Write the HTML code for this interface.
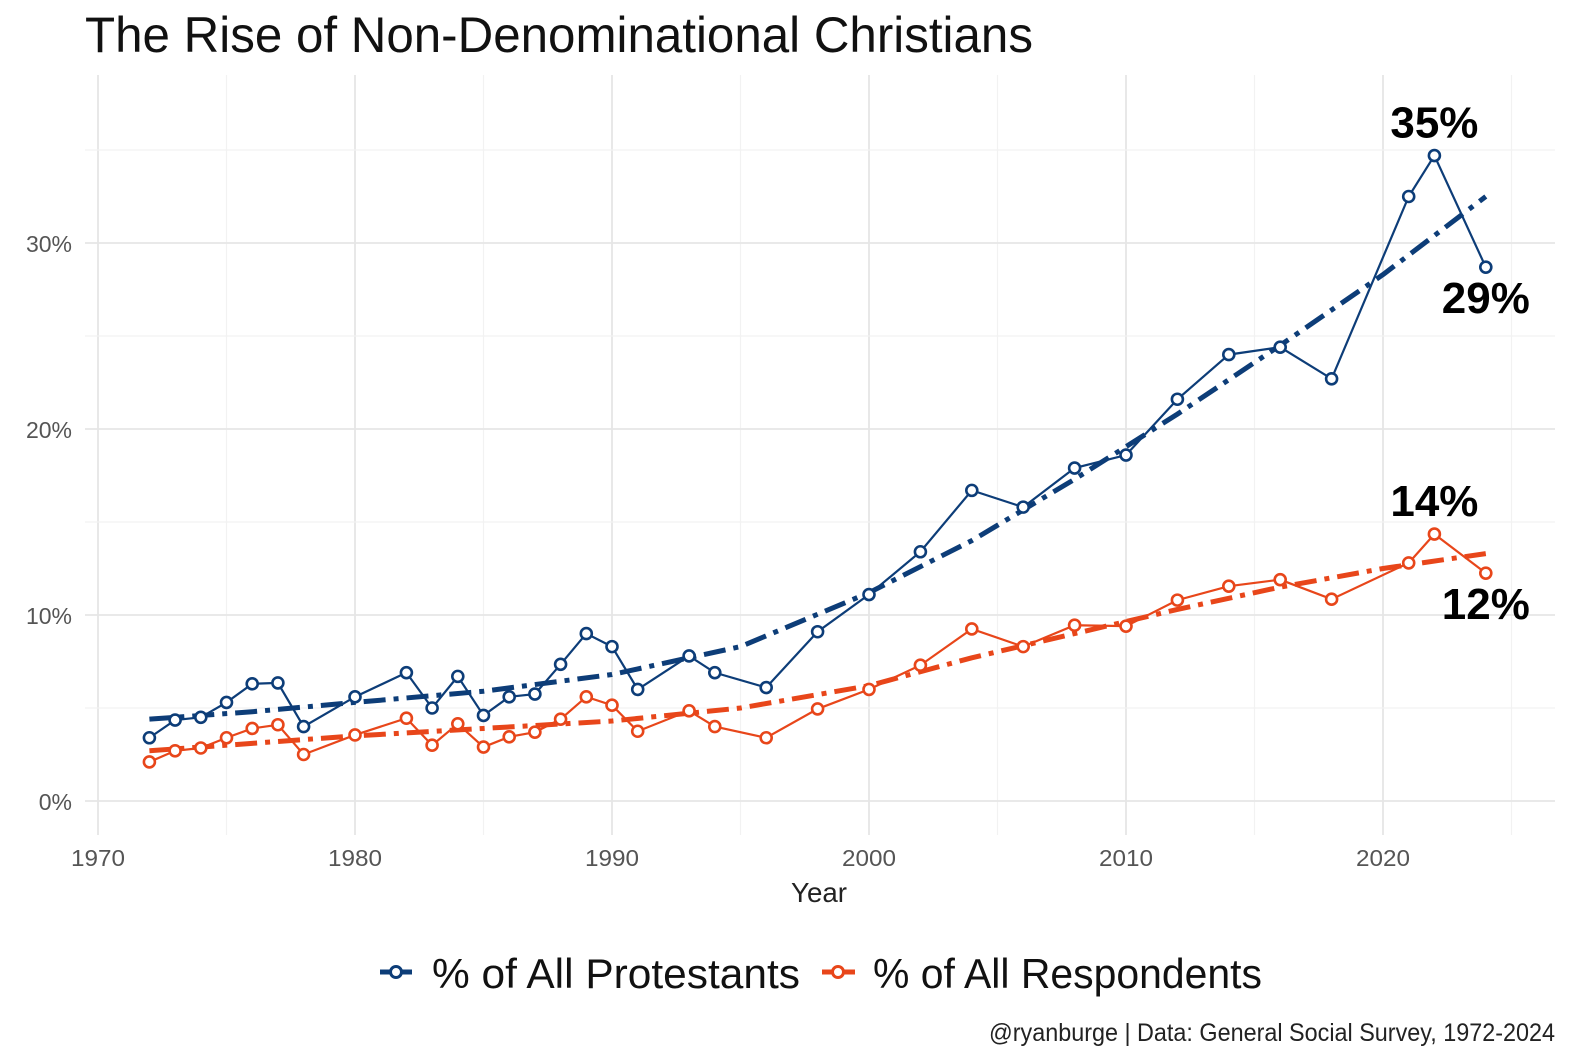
<!DOCTYPE html>
<html><head><meta charset="utf-8">
<style>
html,body{margin:0;padding:0;background:#fff;}
svg{display:block;font-family:"Liberation Sans",sans-serif;}
</style></head>
<body>
<svg id="chart" width="1573" height="1058" viewBox="0 0 1573 1058" xmlns="http://www.w3.org/2000/svg">
<text x="85" y="52" font-size="50" fill="#111" textLength="948" lengthAdjust="spacingAndGlyphs">The Rise of Non-Denominational Christians</text>
<g id="grid"></g>
<g id="axes"></g>
<g id="series"></g>
<text x="819" y="902" font-size="28" fill="#222" text-anchor="middle" textLength="56" lengthAdjust="spacingAndGlyphs">Year</text>
<g>
 <g>
  <line x1="380" y1="972" x2="412" y2="972" stroke="#0d3d78" stroke-width="5"/>
  <circle cx="396" cy="972" r="5.5" fill="#fff" stroke="#0d3d78" stroke-width="3"/>
  <text x="432" y="988" font-size="42" fill="#111" textLength="368" lengthAdjust="spacingAndGlyphs">% of All Protestants</text>
 </g>
 <g>
  <line x1="822" y1="972" x2="855" y2="972" stroke="#e8461a" stroke-width="5"/>
  <circle cx="838" cy="972" r="5.5" fill="#fff" stroke="#e8461a" stroke-width="3"/>
  <text x="873" y="988" font-size="42" fill="#111" textLength="389" lengthAdjust="spacingAndGlyphs">% of All Respondents</text>
 </g>
</g>
<text x="1555" y="1041" font-size="25" fill="#222" text-anchor="end" textLength="566" lengthAdjust="spacingAndGlyphs">@ryanburge | Data: General Social Survey, 1972-2024</text>
</svg>
<script>
const years=[1972,1973,1974,1975,1976,1977,1978,1980,1982,1983,1984,1985,1986,1987,1988,1989,1990,1991,1993,1994,1996,1998,2000,2002,2004,2006,2008,2010,2012,2014,2016,2018,2021,2022,2024];
const protestants=[3.4,4.35,4.5,5.3,6.3,6.35,4.0,5.6,6.9,5.0,6.7,4.6,5.6,5.75,7.35,9.0,8.3,6.0,7.8,6.9,6.1,9.1,11.1,13.4,16.7,15.8,17.9,18.6,21.6,24.0,24.4,22.7,32.5,34.7,28.7];
const respondents=[2.1,2.7,2.85,3.4,3.9,4.1,2.5,3.55,4.45,3.0,4.15,2.9,3.45,3.7,4.4,5.6,5.15,3.75,4.85,4.0,3.4,4.95,6.0,7.3,9.25,8.3,9.45,9.4,10.8,11.55,11.9,10.85,12.8,14.35,12.25];
const trendYears=[1972,1976,1980,1985,1990,1995,2000,2004,2008,2012,2016,2020,2024];
const protTrend=[4.4,4.8,5.3,5.9,6.8,8.3,11.2,14.0,17.3,20.8,24.5,28.3,32.5];
const respTrend=[2.7,3.1,3.5,3.9,4.3,5.0,6.2,7.7,9.0,10.3,11.5,12.5,13.3];
const xTicks=[1970,1980,1990,2000,2010,2020];
const yTicks=[0,10,20,30];
const labels=[{x:2022,y:34.7,t:"35%",dy:-18},{x:2024,y:28.7,t:"29%",dy:46},{x:2022,y:14.35,t:"14%",dy:-18},{x:2024,y:12.25,t:"12%",dy:46}];

const NS="http://www.w3.org/2000/svg";
const X=y=>98+(y-1970)*25.7;
const Y=v=>801-v*18.6;
function mk(tag,attrs,parent){const e=document.createElementNS(NS,tag);for(const k in attrs)e.setAttribute(k,attrs[k]);parent.appendChild(e);return e;}
const grid=document.getElementById('grid'),axes=document.getElementById('axes'),series=document.getElementById('series');
for(let yr=1970;yr<=2025;yr+=5){
 const l=mk('line',{x1:X(yr),x2:X(yr),y1:75,y2:835,stroke:yr%10?'#f2f2f2':'#e6e6e6','stroke-width':yr%10?1.2:1.8},grid);
 
 
}
for(let v=0;v<=35;v+=5){
 const l=mk('line',{x1:85,x2:1555,y1:Y(v),y2:Y(v),stroke:v%10?'#f2f2f2':'#e6e6e6','stroke-width':v%10?1.2:1.8},grid);
 
 
}
xTicks.forEach(t=>{const e=mk('text',{x:X(t),y:866,'font-size':23,fill:'#555','text-anchor':'middle',textLength:54,lengthAdjust:'spacingAndGlyphs'},axes);e.textContent=t;
 
 });
yTicks.forEach(t=>{const e=mk('text',{x:72,y:Y(t)+9,'font-size':23,fill:'#555','text-anchor':'end'},axes);e.textContent=t+'%';
 
 });
function pts(xs,vs){return xs.map((y,i)=>X(y)+','+Y(vs[i])).join(' ');}
function draw(vals,trend,color,name){
 const t=mk('polyline',{points:pts(trendYears,trend),fill:'none',stroke:color,'stroke-width':5,'stroke-dasharray':'22 8 5 8','stroke-linejoin':'round'},series);
 
 
 const l=mk('polyline',{points:pts(years,vals),fill:'none',stroke:color,'stroke-width':2.2},series);
 
 
 years.forEach((yr,i)=>{const c=mk('circle',{cx:X(yr),cy:Y(vals[i]),r:5.5,fill:'#fff',stroke:color,'stroke-width':2.6},series);
  
  });
}
draw(protestants,protTrend,'#0d3d78','protestants');
draw(respondents,respTrend,'#e8461a','respondents');
labels.forEach(a=>{const e=mk('text',{x:X(a.x),y:Y(a.y)+a.dy,'font-size':44,'font-weight':'bold',fill:'#000','text-anchor':'middle',textLength:88,lengthAdjust:'spacingAndGlyphs'},series);e.textContent=a.t;
 
 });
</script>
</body></html>
